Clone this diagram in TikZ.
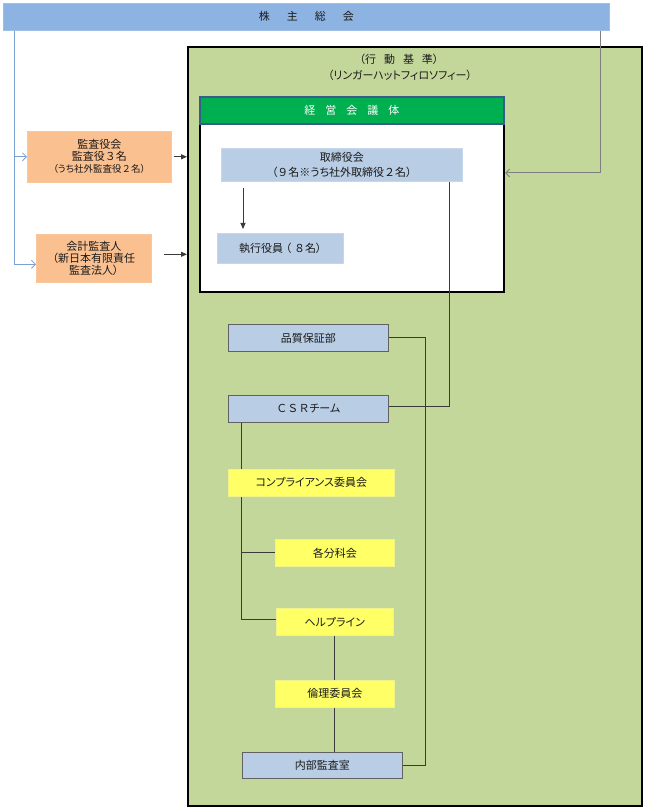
\documentclass[tikz,border=0pt]{standalone}
\usepackage{fontspec}
\setmainfont{Noto Sans CJK JP}[RawFeature=+palt]
\usetikzlibrary{arrows.meta,calc}
\newcommand{\fw}[1]{\makebox[1em]{#1}}
\definecolor{barblue}{HTML}{8DB3E2}
\definecolor{orng}{HTML}{FAC090}
\definecolor{olive}{HTML}{C4D79B}
\definecolor{hdrgreen}{HTML}{00B050}
\definecolor{hdrline}{HTML}{385D8A}
\definecolor{lblue}{HTML}{B9CDE5}
\definecolor{ylw}{HTML}{FFFF66}
\definecolor{ylwline}{HTML}{F2F28A}
\definecolor{bline}{HTML}{7BA0D4}
\definecolor{dline}{HTML}{3A3A3A}
\definecolor{gline}{HTML}{7F7F7F}
\definecolor{txt}{HTML}{1A1A1A}
\pgfdeclarelayer{bg}
\pgfdeclarelayer{lines}
\pgfsetlayers{bg,lines,main}
\tikzset{
  box/.style={anchor=north west, inner sep=0pt, align=center, text=txt,
    font=\fontsize{11}{15}\selectfont},
  bluebox/.style={box, fill=lblue, draw=lblue!80!white, line width=0.6pt},
  greybox/.style={box, fill=lblue, draw=dline!80, line width=0.8pt},
  yellowbox/.style={box, fill=ylw, draw=ylwline, line width=0.6pt},
  orangebox/.style={box, fill=orng, draw=orng!90!white, line width=0.6pt,
    font=\fontsize{11}{12}\selectfont},
  conn/.style={draw=dline, line width=0.9pt},
  barb/.style={-{Straight Barb[length=4pt,width=8pt]}},
  tip/.style={-{Triangle[length=6pt,width=5pt]}}
}
\begin{document}
\begin{tikzpicture}[x=1pt,y=-1pt]
\useasboundingbox (0,0) rectangle (647,810);
% top bar
\node[box, fill=barblue, draw=barblue!85!white, line width=0.6pt,
  minimum width=606pt, minimum height=27pt] (bar) at (3,3)
  {株\hspace{17pt}主\hspace{17pt}総\hspace{17pt}会};
% green container
\begin{pgfonlayer}{bg}
\node[box, fill=olive, draw=black, line width=2pt,
  minimum width=454pt, minimum height=759pt] (green) at (187,46) {};
\node[box, fill=white, draw=black, line width=2pt,
  minimum width=304pt, minimum height=195pt] (mgmt) at (199,96) {};
\end{pgfonlayer}
\node[box, anchor=center] (kijun) at (399,59) {（行\hspace{8pt}動\hspace{8pt}基\hspace{8pt}準）};
\node[box, anchor=center] (philo) at (400,75) {（リンガーハットフィロソフィー）};
\node[box, fill=hdrgreen, draw=hdrline, line width=1.6pt, text=white,
  minimum width=304pt, minimum height=27pt] (hdr) at (199,96)
  {経\hspace{10pt}営\hspace{10pt}会\hspace{10pt}議\hspace{10pt}体};
% left boxes
\node[orangebox, minimum width=144pt, minimum height=51pt] (kansa) at (27,131)
  {監査役会\\監査役\fw{３}名\\{\fontsize{9.5}{11}\selectfont （うち社外監査役\fw{２}名）}};
\node[orangebox, minimum width=115pt, minimum height=48pt] (kaikei) at (36,234)
  {会計監査人\\（新日本有限責任\\監査法人）};
% inside management
\node[bluebox, minimum width=241pt, minimum height=33pt] (tori) at (221,148)
  {取締役会\\（\fw{９}名※うち社外取締役\fw{２}名）};
\node[bluebox, minimum width=126pt, minimum height=30pt] (shikko) at (217,233)
  {執行役員\fw{（}\fw{８}名）};
% departments
\node[greybox, minimum width=160pt, minimum height=27pt] (hin) at (228,324) {品質保証部};
\node[greybox, minimum width=160pt, minimum height=27pt] (csr) at (228,395) {\fw{Ｃ}\fw{Ｓ}\fw{Ｒ}チーム};
\node[yellowbox, minimum width=166pt, minimum height=27pt] (comp) at (228,469) {コンプライアンス委員会};
\node[yellowbox, minimum width=119pt, minimum height=27pt] (bunka) at (275,539) {各分科会};
\node[yellowbox, minimum width=117pt, minimum height=27pt] (help) at (276,608) {ヘルプライン};
\node[yellowbox, minimum width=119pt, minimum height=27pt] (rinri) at (275,680) {倫理委員会};
\node[greybox, minimum width=160pt, minimum height=26pt] (naibu) at (242,752) {内部監査室};
% connectors
\coordinate (bT) at (14,30);
\coordinate (rT) at (600,30);
\begin{pgfonlayer}{lines}
\draw[draw=bline, line width=0.8pt, barb] (bT) |- ([yshift=-6pt]kaikei.west);
\draw[draw=bline, line width=0.8pt, barb] (bT |- kansa.west) -- (kansa.west);
\draw[draw=gline, line width=1pt, barb] (rT) |- ([yshift=21.5pt]mgmt.east);
\draw[conn, tip] ([xshift=2pt]kansa.east) -- (kansa.east -| green.west);
\draw[conn, tip] ([xshift=12pt,yshift=4pt]kaikei.east) -- ([yshift=4pt]kaikei.east -| green.west);
\draw[conn, tip] ($(tori.south west)+(22,6)$) -- ($(shikko.north west)+(26,-4)$);
\draw[conn] ($(tori.south east)+(-13,0)$) |- ([yshift=2pt]csr.east);
\draw[conn] (hin.east) -- ++(37,0) |- (naibu.east);
\coordinate (cs) at ($(csr.south west)+(13,0)$);
\draw[conn] (cs) |- ([yshift=2pt]help.west);
\draw[conn] (cs |- bunka.west) -- (bunka.west);
\draw[conn] (help.south) -- (rinri.north);
\draw[conn] (rinri.south) -- (rinri.south |- naibu.north);
\end{pgfonlayer}
\end{tikzpicture}
\end{document}
